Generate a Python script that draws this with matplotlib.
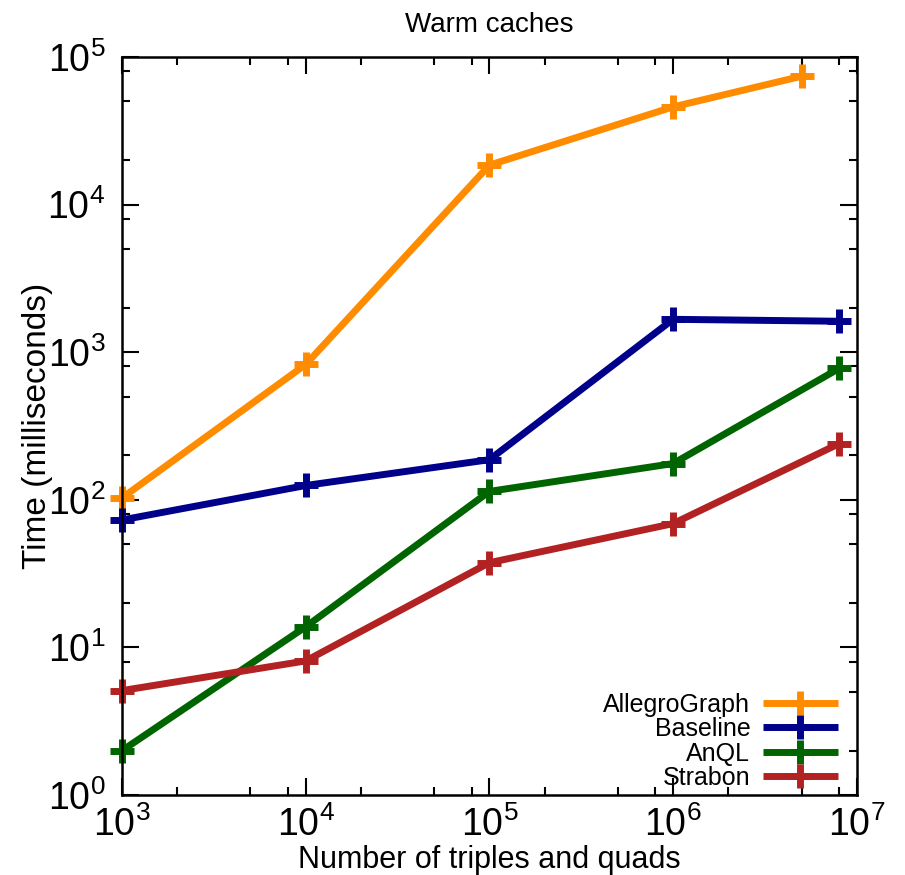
import numpy as np
import matplotlib.pyplot as plt
from matplotlib.ticker import LogLocator, LogFormatterSciNotation, NullFormatter

plt.rcParams['font.family'] = ['Liberation Sans', 'DejaVu Sans']
plt.rcParams['mathtext.fontset'] = 'custom'
plt.rcParams['mathtext.rm'] = 'Liberation Sans'
plt.rcParams['mathtext.it'] = 'Liberation Sans'
plt.rcParams['mathtext.bf'] = 'Liberation Sans'

# donnees
x_small = [1e3, 1e4, 1e5, 1e6, 8e6]
x_allegro = [1e3, 1e4, 1e5, 1e6, 5e6]
allegro = [103, 826, 18500, 45900, 74000]
baseline = [73, 125, 187, 1670, 1620]
anql = [2.0, 13.8, 114, 176, 776]
strabon = [5.1, 8.1, 37.5, 69, 240]

labels = ["AllegroGraph", "Baseline", "AnQL", "Strabon"]
colors = ["#FF8C00", "#00008B", "#006400", "#B22222"]

fig = plt.figure(figsize=(9.05, 8.75), dpi=100)
ax = fig.add_axes([0.1348, 0.0914, 0.812, 0.8435])

series = [(x_allegro, allegro), (x_small, baseline), (x_small, anql), (x_small, strabon)]
for (xs, ys), lab, c in zip(series, labels, colors):
    ax.plot(xs, ys, color=c, lw=5, marker='+', ms=17, mew=5, label=lab,
            solid_capstyle='butt', clip_on=False)

ax.set_xscale('log')
ax.set_yscale('log')
ax.set_xlim(1e3, 1e7)
ax.set_ylim(1, 1e5)

for axis in (ax.xaxis, ax.yaxis):
    axis.set_major_locator(LogLocator(base=10, numticks=10))
    axis.set_minor_locator(LogLocator(base=10, subs=(2, 5, 8), numticks=10))
    axis.set_major_formatter(LogFormatterSciNotation())
    axis.set_minor_formatter(NullFormatter())

ax.tick_params(which='both', direction='in', top=True, right=True, width=1.5)
ax.tick_params(which='major', length=12, labelsize=27)
ax.tick_params(which='minor', length=6)
ax.tick_params(axis='x', pad=8)
ax.tick_params(axis='y', pad=12)
for s in ax.spines.values():
    s.set_linewidth(1.8)

ax.set_title("Warm caches", fontsize=20, pad=18)
ax.set_xlabel("Number of triples and quads", fontsize=22)
ax.set_ylabel("Time (milliseconds)", fontsize=24)
ax.xaxis.set_label_coords(0.5, -0.068)
ax.yaxis.set_label_coords(-0.094, 0.5)

ax.legend(loc='lower right', bbox_to_anchor=(0.981, 0.0), frameon=False,
          markerfirst=False, fontsize=18, handlelength=3.0, labelspacing=0.02,
          borderaxespad=0.0, handletextpad=0.5, borderpad=0.2)

plt.savefig("out.png", dpi=100)
